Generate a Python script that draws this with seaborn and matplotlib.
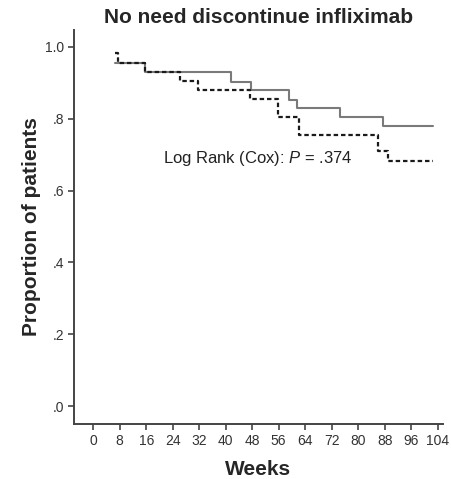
import matplotlib
matplotlib.use("Agg")
import matplotlib.pyplot as plt
import seaborn as sns
import pandas as pd

# Data (Kaplan-Meier style step curves)
weeks_solid = [6.6, 15.6, 41.5, 47.5, 59.2, 61.6, 74.5, 87.4, 102.7]
surv_solid = [0.955, 0.929, 0.901, 0.881, 0.851, 0.830, 0.805, 0.779, 0.779]

weeks_dashed = [6.6, 7.6, 15.6, 26.2, 31.5, 47.4, 55.9, 62.2, 86.1, 89.1, 102.7]
surv_dashed = [0.982, 0.955, 0.929, 0.904, 0.879, 0.856, 0.806, 0.756, 0.709, 0.683, 0.683]

x_ticks = [0, 8, 16, 24, 32, 40, 48, 56, 64, 72, 80, 88, 96, 104]
y_ticks = [0.0, 0.2, 0.4, 0.6, 0.8, 1.0]
y_tick_labels = [".0", ".2", ".4", ".6", ".8", "1.0"]

title = "No need discontinue infliximab"
x_label = "Weeks"
y_label = "Proportion of patients"
annotation = "Log Rank (Cox): $P$ = .374"

sns.set_theme(style="ticks")
plt.rcParams["font.family"] = ["Liberation Sans", "DejaVu Sans"]
plt.rcParams["mathtext.fontset"] = "custom"
plt.rcParams["mathtext.it"] = "Liberation Sans:italic"
plt.rcParams["mathtext.rm"] = "Liberation Sans"

fig = plt.figure(figsize=(4.52, 4.79), dpi=100)
ax = fig.add_axes([0.1637, 0.1148, 0.8163, 0.8226])

df_s = pd.DataFrame({"week": weeks_solid, "surv": surv_solid})
df_d = pd.DataFrame({"week": weeks_dashed, "surv": surv_dashed})

sns.lineplot(data=df_s, x="week", y="surv", ax=ax, color="#7a7a7a", lw=1.5,
             drawstyle="steps-post", estimator=None, sort=False)
sns.lineplot(data=df_d, x="week", y="surv", ax=ax, color="#1a1a1a", lw=1.6,
             drawstyle="steps-post", estimator=None, sort=False)
ax.lines[-1].set_dashes((2.0, 1.3))

ax.set_xlim(-5.8, 105.6)
ax.set_ylim(-0.05, 1.047)
ax.set_xticks(x_ticks)
ax.set_xticklabels([str(t) for t in x_ticks])
ax.set_yticks(y_ticks)
ax.set_yticklabels(y_tick_labels)

for s in ["top", "right"]:
    ax.spines[s].set_visible(False)
for s in ["left", "bottom"]:
    ax.spines[s].set_color("#444444")
    ax.spines[s].set_linewidth(1.4)

ax.tick_params(axis="both", direction="out", length=4, width=1.2, color="#444444",
               labelsize=10, labelcolor="#333333", pad=3)

ax.set_xlabel(x_label, fontsize=15, fontweight="bold", labelpad=9)
ax.set_ylabel(y_label, fontsize=15, fontweight="bold", labelpad=3)
fig.text(0.573, 0.963, title, fontsize=15, fontweight="bold", ha="center", va="center")

ax.text(21.0, 0.689, annotation, fontsize=12, color="#222222", va="center", ha="left")

fig.savefig("out.png", dpi=100)
